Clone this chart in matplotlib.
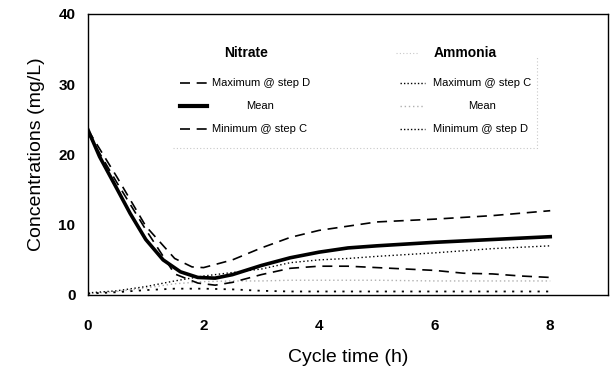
import numpy as np
import matplotlib
matplotlib.use("Agg")
import matplotlib.pyplot as plt

plt.rcParams['font.family'] = ['Liberation Sans', 'DejaVu Sans']

# --- Nitrate (mg/L) vs cycle time (h) ---
t_no3_max = [0, 0.5, 1.0, 1.5, 1.8, 2.0, 2.5, 3.0, 3.5, 4.0, 4.5, 5.0, 6.0, 7.0, 8.0]
no3_max = [23.5, 16.8, 9.8, 5.2, 4.0, 3.9, 5.0, 6.7, 8.2, 9.2, 9.8, 10.4, 10.8, 11.3, 12.0]

t_no3_mean = [0, 0.2, 0.45, 0.73, 1.0, 1.3, 1.6, 1.9, 2.2, 2.5, 3.0, 3.5, 4.0, 4.5, 5.0, 6.0, 7.0, 8.0]
no3_mean = [23.5, 19.7, 15.9, 11.6, 7.9, 5.0, 3.3, 2.5, 2.4, 2.9, 4.2, 5.3, 6.1, 6.7, 7.0, 7.5, 7.9, 8.3]

t_no3_min = [0, 0.5, 1.0, 1.5, 1.9, 2.2, 2.5, 3.0, 3.5, 4.0, 4.5, 5.0, 6.0, 6.5, 7.0, 7.5, 8.0]
no3_min = [23.0, 16.0, 9.3, 3.0, 1.7, 1.4, 1.8, 2.9, 3.8, 4.1, 4.1, 3.9, 3.5, 3.1, 3.0, 2.7, 2.5]

# --- Ammonia (mg/L) ---
t_nh4 = [0, 0.5, 1.0, 1.5, 2.0, 2.5, 3.0, 3.5, 4.0, 4.5, 5.0, 6.0, 7.0, 8.0]
nh4_max = [0.3, 0.6, 1.2, 2.0, 2.7, 3.2, 3.7, 4.6, 5.0, 5.2, 5.5, 6.0, 6.6, 7.0]
nh4_mean = [0.2, 0.5, 1.0, 1.6, 1.9, 2.0, 2.0, 2.1, 2.1, 2.1, 2.1, 2.0, 2.0, 2.0]
nh4_min = [0.2, 0.4, 0.7, 0.9, 0.9, 0.8, 0.6, 0.5, 0.5, 0.5, 0.5, 0.5, 0.5, 0.5]

x_ticks = [0, 2, 4, 6, 8]
y_ticks = [0, 10, 20, 30, 40]

fig = plt.figure(figsize=(6.13, 3.76), dpi=100)
ax = fig.add_axes([88 / 613, 1 - 295 / 376, 520 / 613, 281 / 376])

ax.plot(t_nh4, nh4_mean, color='#b0b0b0', lw=1.0, linestyle=(0, (1, 2)))
ax.plot(t_nh4, nh4_max, color='black', lw=1.0, linestyle=(0, (1, 1.8)))
ax.plot(t_nh4, nh4_min, color='black', lw=1.3, linestyle=(0, (1.2, 3.5)))
ax.plot(t_no3_max, no3_max, color='black', lw=1.2, linestyle=(0, (6, 4)))
ax.plot(t_no3_min, no3_min, color='black', lw=1.2, linestyle=(0, (6, 4)))
ax.plot(t_no3_mean, no3_mean, color='black', lw=2.6)

ax.set_xlim(0, 9)
ax.set_ylim(0, 40)
ax.set_xticks(x_ticks)
ax.set_yticks(y_ticks)
ax.tick_params(length=0, labelsize=11)
ax.tick_params(axis='x', pad=17)
ax.tick_params(axis='y', pad=9)
for lab in ax.get_xticklabels() + ax.get_yticklabels():
    lab.set_fontweight('bold')
for s in ax.spines.values():
    s.set_linewidth(1.0)

ax.set_xlabel('Cycle time (h)', fontsize=14, labelpad=12)
ax.set_ylabel('Concentrations (mg/L)', fontsize=14, labelpad=10)

# hand-made legend block (two columns)
tr = ax.transAxes
ax.text(0.304, 0.861, 'Nitrate', transform=tr, ha='center', va='center',
        fontsize=10, fontweight='bold')
ax.text(0.725, 0.861, 'Ammonia', transform=tr, ha='center', va='center',
        fontsize=10, fontweight='bold')

rows_y = [0.754, 0.673, 0.591]
no3_labels = ['Maximum @ step D', 'Mean', 'Minimum @ step C']
no3_styles = [dict(lw=1.2, linestyle=(0, (6, 4))), dict(lw=3.0, linestyle='-'),
              dict(lw=1.2, linestyle=(0, (6, 4)))]
nh4_labels = ['Maximum @ step C', 'Mean', 'Minimum @ step D']
nh4_styles = [dict(lw=1.0, linestyle=(0, (1, 1.5)), color='black'),
              dict(lw=1.0, linestyle=(0, (1, 2)), color='#b0b0b0'),
              dict(lw=1.0, linestyle=(0, (1, 1.5)), color='black')]
for i, (yy, lab, st) in enumerate(zip(rows_y, no3_labels, no3_styles)):
    ax.plot([0.177, 0.229], [yy, yy], transform=tr, color='black', **st)
    if i == 1:
        ax.text(0.331, yy, lab, transform=tr, ha='center', va='center', fontsize=8)
    else:
        ax.text(0.238, yy, lab, transform=tr, ha='left', va='center', fontsize=8)
for i, (yy, lab, st) in enumerate(zip(rows_y, nh4_labels, nh4_styles)):
    ax.plot([0.600, 0.648], [yy, yy], transform=tr, **st)
    if i == 1:
        ax.text(0.758, yy, lab, transform=tr, ha='center', va='center', fontsize=8)
    else:
        ax.text(0.663, yy, lab, transform=tr, ha='left', va='center', fontsize=8)

# faint dotted legend frame
ax.plot([0.163, 0.863, 0.863], [0.523, 0.523, 0.847], transform=tr,
        color='#c8c8c8', lw=0.8, linestyle=(0, (1, 2)))
ax.plot([0.592, 0.635], [0.861, 0.861], transform=tr,
        color='#c8c8c8', lw=0.8, linestyle=(0, (1, 2)))

fig.savefig('out.png', dpi=100)
